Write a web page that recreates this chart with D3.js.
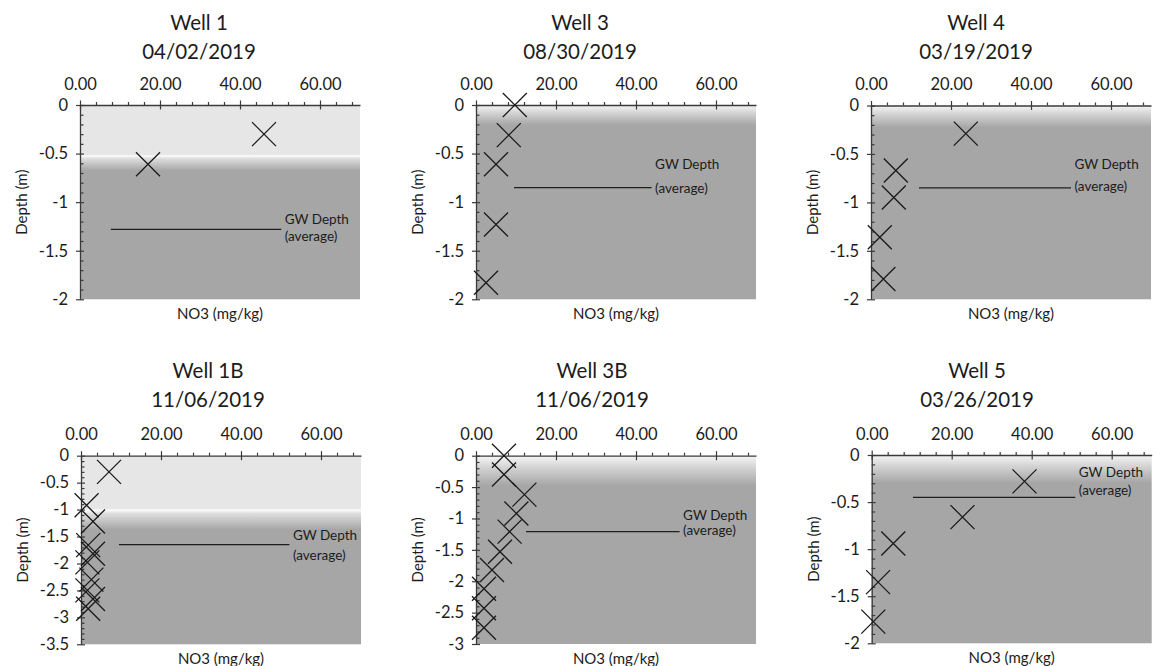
<!DOCTYPE html>
<html>
<head>
<meta charset="utf-8">
<script src="https://cdn.jsdelivr.net/npm/d3@7/dist/d3.min.js"></script>
<style>
  html, body { margin: 0; padding: 0; background: #fff; }
  svg { display: block; font-family: Lato, "Open Sans", sans-serif; }
</style>
</head>
<body>
<svg id="chart" width="1155" height="666"></svg>
<script>
// ---------- data ----------
const wellNames   = ["Well 1", "Well 3", "Well 4", "Well 1B", "Well 3B", "Well 5"];
const sampleDates = ["04/02/2019", "08/30/2019", "03/19/2019", "11/06/2019", "11/06/2019", "03/26/2019"];

const well1NO3   = [46.0, 17.0];
const well1Depth = [-0.30, -0.61];
const well3NO3   = [9.7, 8.2, 5.0, 5.0, 2.5];
const well3Depth = [0.00, -0.31, -0.61, -1.23, -1.83];
const well4NO3   = [23.7, 6.2, 5.7, 2.2, 3.1];
const well4Depth = [-0.29, -0.67, -0.95, -1.36, -1.79];
const well1BNO3   = [7.0, 1.4, 3.0, 1.8, 3.0, 1.6, 2.6, 1.6, 3.0, 1.8];
const well1BDepth = [-0.30, -0.92, -1.22, -1.66, -1.82, -1.98, -2.30, -2.50, -2.66, -2.84];
const well3BNO3   = [7.0, 7.0, 12.1, 10.1, 8.4, 6.0, 4.0, 2.0, 2.0, 2.0];
const well3BDepth = [0.00, -0.30, -0.62, -0.92, -1.21, -1.53, -1.82, -2.12, -2.43, -2.74];
const well5NO3   = [38.2, 22.7, 5.4, 1.6, 0.4];
const well5Depth = [-0.28, -0.66, -0.94, -1.35, -1.77];

const gwDepth    = [-1.28, -0.85, -0.85, -1.65, -1.21, -0.45];
const gwLineFrom = [7.7, 9.5, 12.0, 9.5, 12.5, 10.3];
const gwLineTo   = [50.3, 43.9, 50.0, 52.1, 50.9, 50.9];
const gwLabelLines = ["GW Depth", "(average)"];

const unsatDepth = [-0.52, 0, 0, -1.0, 0, 0];   // bottom of light (unsaturated) zone
const depthMin   = [-2, -2, -2, -3.5, -3, -2];

const xTickValues = [0, 20, 40, 60];
const xMax = 70;
const yTickLists = [
  [0, -0.5, -1, -1.5, -2],
  [0, -0.5, -1, -1.5, -2],
  [0, -0.5, -1, -1.5, -2],
  [0, -0.5, -1, -1.5, -2, -2.5, -3, -3.5],
  [0, -0.5, -1, -1.5, -2, -2.5, -3],
  [0, -0.5, -1, -1.5, -2]
];
const xTitle = "NO3 (mg/kg)";
const yTitle = "Depth (m)";

const seriesNO3   = [well1NO3, well3NO3, well4NO3, well1BNO3, well3BNO3, well5NO3];
const seriesDepth = [well1Depth, well3Depth, well4Depth, well1BDepth, well3BDepth, well5Depth];

// ---------- layout (style) ----------
const layout = [
  {ax: 80,  top: 105,   bottom: 299.3, titleX: 199, titleY: 21.7, gradPx: 15, lab: [-10, 6.4]},
  {ax: 476, top: 105,   bottom: 299.3, titleX: 580, titleY: 21.7, gradPx: 20, lab: [-23.4, 0]},
  {ax: 871, top: 105.5, bottom: 299.3, titleX: 976, titleY: 21.7, gradPx: 22, lab: [-24, -1.6]},
  {ax: 81,  top: 455.7, bottom: 644.3, titleX: 208, titleY: 370,  gradPx: 20, lab: [-9.3, 10.7]},
  {ax: 476, top: 455.7, bottom: 644,   titleX: 592, titleY: 370,  gradPx: 30, lab: [-17, -2]},
  {ax: 871.7, top: 455, bottom: 643.3, titleX: 977, titleY: 370,  gradPx: 28, lab: [-25.6, -7.3]}
];
const plotW = 280;
const axisColor = "#3a3a3a";
const textColor = "#1c1c1c";
const darkFill = "#a6a6a6";
const lightFill = "#e6e6e6";

const svg = d3.select("#chart");
const defs = svg.append("defs");

layout.forEach((L, i) => {
  const x = d3.scaleLinear().domain([0, xMax]).range([L.ax, L.ax + plotW]);
  const y = d3.scaleLinear().domain([0, depthMin[i]]).range([L.top, L.bottom]);
  const g = svg.append("g");

  // background zones
  const yb = y(unsatDepth[i]);
  const gid = "grad" + i;
  const grad = defs.append("linearGradient")
    .attr("id", gid).attr("gradientUnits", "userSpaceOnUse")
    .attr("x1", 0).attr("x2", 0).attr("y1", yb).attr("y2", yb + L.gradPx);
  if (unsatDepth[i] < 0) {
    g.append("rect").attr("x", x(0)).attr("y", y(0)).attr("width", x(xMax) - x(0))
      .attr("height", yb - y(0)).attr("fill", lightFill);
    grad.append("stop").attr("offset", 0).attr("stop-color", "#ffffff");
    grad.append("stop").attr("offset", 0.2).attr("stop-color", "#dedede");
    grad.append("stop").attr("offset", 1).attr("stop-color", darkFill);
  } else {
    grad.append("stop").attr("offset", 0).attr("stop-color", "#f6f6f6");
    grad.append("stop").attr("offset", 0.45).attr("stop-color", "#cfcfcf");
    grad.append("stop").attr("offset", 1).attr("stop-color", darkFill);
  }
  g.append("rect").attr("x", x(0)).attr("y", yb).attr("width", x(xMax) - x(0))
    .attr("height", y(depthMin[i]) - yb).attr("fill", `url(#${gid})`);

  // titles
  g.append("text").attr("x", L.titleX).attr("y", L.titleY).attr("text-anchor", "middle")
    .attr("dominant-baseline", "central").attr("font-size", 20.5).attr("fill", textColor).text(wellNames[i]);
  g.append("text").attr("x", L.titleX).attr("y", L.titleY + 29).attr("text-anchor", "middle")
    .attr("dominant-baseline", "central").attr("font-size", 20.5).attr("fill", textColor).text(sampleDates[i]);

  // x axis (top)
  const minorX = d3.range(0, xMax + 0.001, 4).filter(v => v % 20 !== 0);
  const xMinorG = g.append("g").attr("transform", `translate(0,${y(0)})`)
    .call(d3.axisTop(x).tickValues(minorX).tickSize(3).tickSizeOuter(0).tickFormat(""));
  xMinorG.select(".domain").remove();
  const xAxisG = g.append("g").attr("transform", `translate(0,${y(0)})`)
    .call(d3.axisTop(x).tickValues(xTickValues).tickSize(4.5).tickSizeOuter(0).tickFormat(d3.format(".2f")));
  xAxisG.selectAll(".tick line").attr("y1", 4.5).attr("y2", -4.5);
  xAxisG.selectAll(".tick text").attr("y", -15.5).attr("dy", 0).attr("font-size", 16.5)
    .attr("font-family", "Lato, sans-serif").attr("fill", textColor);

  // y axis (left)
  const ymin = depthMin[i];
  const minorY = d3.range(0, Math.round(-ymin * 10) + 1).map(k => -k / 10).filter(v => Math.abs(v * 2 - Math.round(v * 2)) > 1e-6);
  const yMinorG = g.append("g").attr("transform", `translate(${x(0)},0)`)
    .call(d3.axisRight(y).tickValues(minorY).tickSize(3.5).tickSizeOuter(0).tickFormat(""));
  yMinorG.select(".domain").remove();
  const yAxisG = g.append("g").attr("transform", `translate(${x(0)},0)`)
    .call(d3.axisLeft(y).tickValues(yTickLists[i]).tickSize(4).tickSizeOuter(0).tickFormat(d => String(d)));
  yAxisG.selectAll(".tick line").attr("x1", 4).attr("x2", -4);
  yAxisG.selectAll(".tick text").attr("x", -12).attr("font-size", 16.5)
    .attr("font-family", "Lato, sans-serif").attr("fill", textColor);

  [xMinorG, xAxisG, yMinorG, yAxisG].forEach(a => {
    a.selectAll("line").attr("stroke", axisColor).attr("stroke-width", 1.2);
    a.selectAll(".domain").attr("stroke", axisColor).attr("stroke-width", 1.3);
  });

  // axis titles
  g.append("text").attr("x", (x(0) + x(xMax)) / 2).attr("y", L.bottom + 14)
    .attr("text-anchor", "middle").attr("dominant-baseline", "central")
    .attr("font-size", 15).attr("fill", textColor).text(xTitle);
  g.append("text")
    .attr("transform", `translate(${L.ax - 59},${(L.top + L.bottom) / 2}) rotate(-90)`)
    .attr("text-anchor", "middle").attr("dominant-baseline", "central")
    .attr("font-size", 15).attr("fill", textColor).text(yTitle);

  // GW depth line and label
  const gy = y(gwDepth[i]);
  g.append("line").attr("x1", x(gwLineFrom[i])).attr("x2", x(gwLineTo[i]))
    .attr("y1", gy).attr("y2", gy).attr("stroke", "#1f1f1f").attr("stroke-width", 1.4);
  gwLabelLines.forEach((t, k) => {
    g.append("text").attr("x", x(gwLineTo[i]) + 3.5).attr("y", gy + L.lab[k])
      .attr("dominant-baseline", "central").attr("font-size", 13.5).attr("fill", textColor).text(t);
  });

  // markers (X)
  const pts = seriesNO3[i].map((v, k) => ({no3: v, depth: seriesDepth[i][k]}));
  const r = 12;
  g.append("g").selectAll("path").data(pts).join("path")
    .attr("d", d => {
      const cx = x(d.no3), cy = y(d.depth);
      return `M${cx - r},${cy - r}L${cx + r},${cy + r}M${cx - r},${cy + r}L${cx + r},${cy - r}`;
    })
    .attr("stroke", "#1a1a1a").attr("stroke-width", 1.3).attr("fill", "none");
});
</script>
</body>
</html>
